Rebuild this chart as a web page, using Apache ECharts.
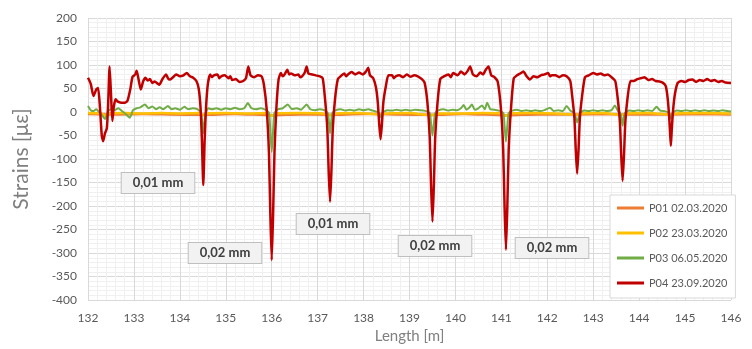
<!DOCTYPE html>
<html>
<head>
<meta charset="utf-8">
<script src="https://cdn.jsdelivr.net/npm/echarts@6/dist/echarts.min.js"></script>
<style>
  html, body { margin: 0; padding: 0; background: #fff; }
  #chart { width: 752px; height: 349px; }
</style>
</head>
<body>
<div id="chart"></div>
<script>
// series names
const seriesNames = ['P01 02.03.2020', 'P02 23.03.2020', 'P03 06.05.2020', 'P04 23.09.2020'];
const seriesColors = ['#ED7D31', '#FFC000', '#70AD47', '#C00000'];

// P04 23.09.2020 [length m, strain]
const p04 = [
    [132.00, 73], [132.06, 60], [132.12, 34], [132.18, 48], [132.22, 51], [132.26, 10],
    [132.30, -50], [132.33, -62], [132.37, -45], [132.41, -35], [132.44, 20], [132.47, 97],
    [132.50, 40], [132.53, -19], [132.56, 10], [132.60, 27], [132.65, 22], [132.72, 20],
    [132.80, 20], [132.86, 24], [132.92, 48], [132.97, 75], [133.03, 80], [133.06, 88], [133.10, 70],
    [133.15, 48], [133.20, 65], [133.25, 73], [133.30, 67], [133.35, 70], [133.40, 62], [133.45, 65], [133.55, 58],
    [133.62, 70], [133.70, 80], [133.74, 72], [133.78, 69], [133.85, 74], [133.92, 80], [134.00, 76],
    [134.08, 78], [134.15, 83], [134.22, 76], [134.29, 73], [134.36, 66], [134.41, 50],
    [134.45, 10], [134.48, -60], [134.51, -155], [134.54, -60], [134.57, 10], [134.61, 60],
    [134.66, 80], [134.70, 74], [134.74, 78], [134.82, 80], [134.86, 72], [134.90, 76], [134.98, 78], [135.06, 72],
    [135.10, 76], [135.14, 68], [135.22, 70], [135.30, 64], [135.38, 66], [135.44, 72], [135.49, 97],
    [135.54, 78], [135.62, 74], [135.70, 78], [135.78, 76], [135.83, 58], [135.89, 6],
    [135.94, -87], [135.97, -218], [136.00, -315], [136.03, -218], [136.06, -87], [136.10, 6],
    [136.15, 70], [136.20, 83], [136.24, 76], [136.28, 80], [136.34, 90], [136.38, 80], [136.42, 82], [136.50, 78],
    [136.58, 80], [136.62, 74], [136.66, 76], [136.72, 84], [136.76, 97], [136.80, 82], [136.88, 80],
    [136.96, 78], [137.05, 76], [137.11, 72], [137.16, 29], [137.21, -35], [137.24, -125],
    [137.27, -191], [137.30, -125], [137.33, -35], [137.38, 29], [137.44, 70], [137.50, 76],
    [137.58, 82], [137.62, 76], [137.66, 80], [137.74, 85], [137.82, 80], [137.90, 84], [137.98, 80],
    [138.05, 86], [138.10, 94], [138.14, 78], [138.21, 72], [138.27, 52], [138.31, 20],
    [138.34, -25], [138.37, -58], [138.40, -25], [138.43, 20], [138.48, 52], [138.54, 78],
    [138.62, 78], [138.66, 72], [138.70, 76], [138.78, 78], [138.86, 74], [138.94, 80], [139.02, 75],
    [139.10, 78], [139.18, 76], [139.27, 70], [139.33, 62], [139.39, 20], [139.44, -53],
    [139.47, -157], [139.50, -233], [139.53, -157], [139.56, -53], [139.61, 20], [139.67, 70],
    [139.75, 76], [139.85, 80], [139.90, 74], [139.95, 83], [140.05, 78], [140.12, 86], [140.20, 80],
    [140.27, 88], [140.32, 97], [140.38, 80], [140.46, 76], [140.54, 84], [140.60, 80],
    [140.66, 90], [140.72, 97], [140.78, 78], [140.85, 74], [140.92, 65], [140.99, 8],
    [141.04, -79], [141.07, -202], [141.10, -293], [141.13, -202], [141.16, -79], [141.21, 8],
    [141.27, 72], [141.34, 78], [141.41, 82], [141.48, 86], [141.55, 76], [141.62, 69],
    [141.70, 76], [141.78, 74], [141.86, 78], [141.94, 80], [142.02, 83], [142.06, 76], [142.10, 78],
    [142.18, 78], [142.26, 74], [142.34, 78], [142.42, 76], [142.50, 66], [142.54, 36],
    [142.59, -12], [142.62, -81], [142.65, -131], [142.68, -81], [142.71, -12], [142.76, 36],
    [142.82, 74], [142.90, 78], [143.00, 83], [143.08, 80], [143.16, 82], [143.24, 78],
    [143.32, 80], [143.40, 74], [143.48, 66], [143.53, 32], [143.58, -20], [143.61, -92],
    [143.64, -146], [143.67, -92], [143.70, -20], [143.75, 32], [143.81, 66], [143.88, 66],
    [143.96, 70], [144.04, 72], [144.12, 74], [144.20, 68], [144.28, 70], [144.36, 66],
    [144.44, 65], [144.52, 62], [144.58, 55], [144.62, 30], [144.65, -5], [144.67, -38],
    [144.69, -72], [144.71, -38], [144.74, 5], [144.78, 39], [144.84, 62], [144.92, 66],
    [145.00, 64], [145.08, 68], [145.16, 69], [145.24, 64], [145.32, 68], [145.40, 66],
    [145.48, 70], [145.56, 66], [145.64, 68], [145.72, 64], [145.80, 66], [145.88, 63],
    [146.00, 62]
];

// P03 06.05.2020
const p03 = [
    [132.00, 13], [132.06, 4], [132.12, 2], [132.18, 6], [132.24, 0], [132.30, -6],
    [132.37, -15], [132.43, 0], [132.50, 6], [132.58, 4], [132.66, 8], [132.74, 2],
    [132.82, -4], [132.91, -12], [132.98, 4], [133.06, 8], [133.14, 10], [133.24, 16],
    [133.32, 8], [133.40, 12], [133.48, 6], [133.56, 10], [133.64, 6], [133.74, 13],
    [133.82, 6], [133.90, 8], [134.00, 5], [134.10, 11], [134.18, 6], [134.28, 8],
    [134.38, 6], [134.46, -2], [134.49, -25], [134.51, -45], [134.53, -25], [134.56, -2],
    [134.62, 8], [134.70, 6], [134.80, 8], [134.90, 5], [135.00, 8], [135.10, 6],
    [135.20, 9], [135.30, 6], [135.40, 8], [135.48, 19], [135.56, 8], [135.66, 6],
    [135.76, 8], [135.86, 5], [135.94, -2], [135.97, -40], [136.00, -85], [136.03, -40],
    [136.06, -2], [136.14, 6], [136.24, 8], [136.35, 16], [136.44, 6], [136.54, 8],
    [136.64, 5], [136.76, 16], [136.84, 6], [136.94, 4], [137.04, 6], [137.14, 4],
    [137.22, -2], [137.25, -25], [137.27, -45], [137.29, -25], [137.32, -2], [137.40, 4],
    [137.50, 6], [137.60, 3], [137.70, 5], [137.80, 3], [137.90, 6], [138.00, 4],
    [138.10, 6], [138.20, 3], [138.31, 0], [138.35, -6], [138.37, -11], [138.39, -6],
    [138.43, 0], [138.52, 4], [138.62, 3], [138.72, 5], [138.82, 3], [138.92, 5],
    [139.02, 3], [139.12, 5], [139.22, 4], [139.32, 3], [139.44, -2], [139.47, -25],
    [139.50, -50], [139.53, -25], [139.56, -2], [139.64, 4], [139.74, 6], [139.84, 3],
    [139.94, 5], [140.04, 4], [140.12, 8], [140.18, 15], [140.24, 5], [140.30, 9],
    [140.36, 16], [140.42, 5], [140.50, 8], [140.58, 14], [140.64, 6], [140.69, 20],
    [140.76, 6], [140.84, 5], [140.94, 3], [141.04, -2], [141.07, -30], [141.10, -63],
    [141.13, -30], [141.16, -2], [141.24, 3], [141.34, 5], [141.44, 2], [141.54, 4],
    [141.64, 2], [141.74, 4], [141.84, 2], [141.94, 4], [142.06, 9], [142.14, 2],
    [142.24, 4], [142.34, 2], [142.42, 13], [142.50, 3], [142.59, -2], [142.62, -12],
    [142.65, -22], [142.68, -12], [142.71, -2], [142.80, 3], [142.90, 2], [143.00, 4],
    [143.10, 2], [143.20, 4], [143.30, 2], [143.40, 4], [143.47, 14], [143.54, 2],
    [143.59, -2], [143.62, -15], [143.64, -29], [143.66, -15], [143.69, -2], [143.78, 3],
    [143.88, 2], [143.98, 4], [144.08, 2], [144.18, 4], [144.28, 2], [144.38, 11],
    [144.46, 3], [144.56, 2], [144.65, -2], [144.67, -8], [144.69, -15], [144.71, -8],
    [144.73, -2], [144.82, 3], [144.92, 2], [145.02, 4], [145.12, 2], [145.22, 4],
    [145.32, 2], [145.42, 4], [145.52, 2], [145.62, 3], [145.72, 2], [145.82, 4],
    [145.92, 2], [146.00, 1]
];

// P02 23.03.2020
const p02 = [
    [132.00, -2], [132.30, -3], [132.37, -8], [132.44, -3], [132.80, -2], [133.20, -3],
    [133.60, -2], [134.00, -3], [134.40, -2], [134.51, -7], [134.60, -3], [135.00, -2],
    [135.50, -3], [135.90, -2], [136.00, -8], [136.10, -3], [136.60, -2], [137.10, -3],
    [137.27, -7], [137.40, -3], [137.90, -2], [138.37, -5], [138.50, -3], [139.00, -2],
    [139.50, -7], [139.60, -3], [140.10, -3], [140.60, -2], [141.00, -3], [141.10, -8],
    [141.20, -3], [141.70, -2], [142.20, -3], [142.65, -6], [142.75, -3], [143.20, -2],
    [143.64, -6], [143.75, -3], [144.20, -2], [144.69, -5], [144.80, -3], [145.40, -2],
    [146.00, -3]
];

// P01 02.03.2020
const p01 = [
    [132.00, -4], [132.60, -5], [133.20, -4], [133.80, -5], [134.51, -6], [135.20, -4],
    [136.00, -7], [136.60, -5], [137.27, -6], [138.00, -4], [138.70, -5], [139.50, -6],
    [140.20, -4], [141.10, -7], [141.80, -5], [142.65, -5], [143.30, -4], [143.64, -5],
    [144.30, -5], [144.69, -5], [145.40, -4], [146.00, -5]
];

// x and y ticks
const xMin = 132, xMax = 146, xStep = 1;
const yMin = -400, yMax = 200, yStep = 50;

// text boxes on the plot: [label, px x, px y]
const notes = [
    ['0,01 mm', 158, 183],
    ['0,02 mm', 225, 253],
    ['0,01 mm', 333, 224],
    ['0,02 mm', 435, 246],
    ['0,02 mm', 552, 248]
];

const font = "Lato, 'Open Sans', sans-serif";
const chart = echarts.init(document.getElementById('chart'));

const option = {
    animation: false,
    grid: { left: 88, right: 21, top: 18, bottom: 47 },
    xAxis: {
        type: 'value',
        min: xMin, max: xMax, interval: xStep,
        name: 'Length [m]',
        nameLocation: 'middle',
        nameGap: 22,
        nameTextStyle: { color: '#7f7f7f', fontSize: 15, fontFamily: font },
        axisLine: { show: false },
        axisTick: { show: false },
        axisLabel: { color: '#595959', fontSize: 12, fontFamily: font, margin: 12 },
        splitLine: { show: true, lineStyle: { color: '#d9d9d9', width: 1 } },
        minorTick: { show: false, splitNumber: 5 },
        minorSplitLine: { show: true, lineStyle: { color: '#f0f0f0', width: 1 } }
    },
    yAxis: {
        type: 'value',
        min: yMin, max: yMax, interval: yStep,
        name: 'Strains [με]',
        nameLocation: 'middle',
        nameGap: 56,
        nameTextStyle: { color: '#7f7f7f', fontSize: 21, fontFamily: font },
        axisLine: { show: false },
        axisTick: { show: false },
        axisLabel: { color: '#595959', fontSize: 12, fontFamily: font, margin: 11 },
        splitLine: { show: true, lineStyle: { color: '#d9d9d9', width: 1 } },
        minorTick: { show: false, splitNumber: 5 },
        minorSplitLine: { show: true, lineStyle: { color: '#f0f0f0', width: 1 } }
    },
    legend: {
        orient: 'vertical',
        left: 610, top: 195,
        padding: [6, 8, 8, 7],
        itemGap: 11,
        itemWidth: 27,
        itemHeight: 3,
        icon: 'rect',
        backgroundColor: '#fff',
        borderColor: '#d9d9d9',
        borderWidth: 1,
        textStyle: { color: '#595959', fontSize: 11, fontFamily: font, lineHeight: 14 },
        data: seriesNames
    },
    series: [p01, p02, p03, p04].map((d, i) => ({
        name: seriesNames[i],
        type: 'line',
        data: d,
        symbol: 'none',
        smooth: 0.2,
        color: seriesColors[i],
        lineStyle: { color: seriesColors[i], width: i === 2 ? 2 : 2.5 },
        z: 2 + i
    })),
    graphic: notes.map(n => ({
        type: 'text',
        x: n[1], y: n[2],
        z: 100,
        style: {
            text: n[0],
            align: 'center',
            verticalAlign: 'middle',
            font: 'bold 13px ' + font,
            fill: '#404040',
            backgroundColor: '#f2f2f2',
            borderColor: '#bfbfbf',
            borderWidth: 1,
            padding: [4, 11, 3, 11]
        }
    }))
};

chart.setOption(option);
</script>
</body>
</html>
